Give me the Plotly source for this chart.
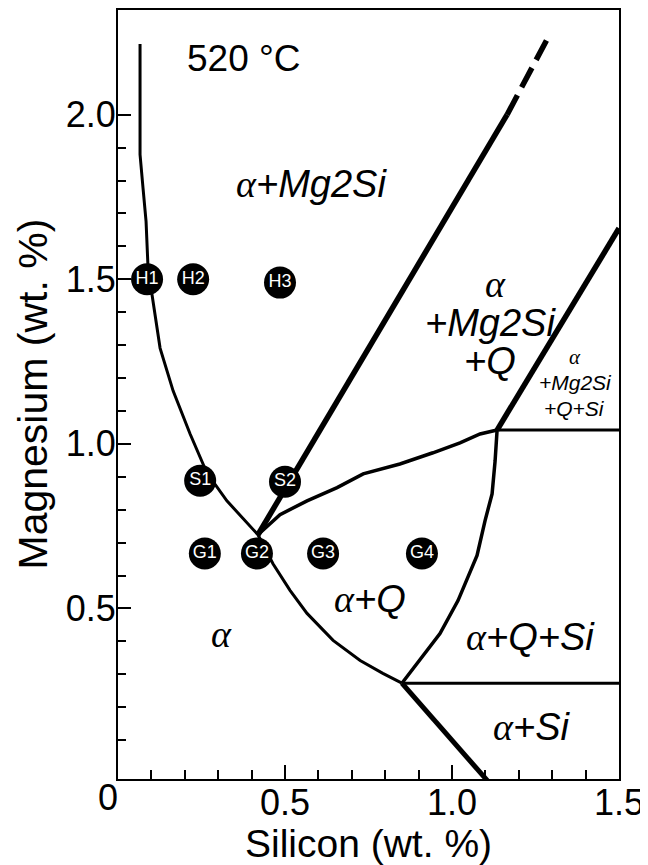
import plotly.graph_objects as go

# ---- data (Si wt.%, Mg wt.%) ----
# alpha solvus: top -> junction -> lower invariant point
alpha_si = [0.066, 0.066, 0.075, 0.084, 0.090, 0.102, 0.126, 0.165, 0.216, 0.266, 0.326, 0.419,
            0.464, 0.515, 0.566, 0.644, 0.725, 0.793, 0.850]
alpha_mg = [2.215, 1.879, 1.776, 1.676, 1.533, 1.455, 1.291, 1.161, 1.030, 0.912, 0.827, 0.724,
            0.636, 0.555, 0.485, 0.403, 0.342, 0.303, 0.273]
# alpha+Si boundary from lower invariant point to Mg = 0
si_bound_si = [0.850, 1.112]
si_bound_mg = [0.273, -0.03]
# alpha+Mg2Si / alpha+Mg2Si+Q boundary (solid then dashed)
mg2si_solid_si = [0.419, 1.165]
mg2si_solid_mg = [0.724, 2.000]
mg2si_dash_si = [1.165, 1.293]
mg2si_dash_mg = [2.000, 2.245]
# alpha+Q / alpha+Mg2Si+Q boundary
q_upper_si = [0.419, 0.485, 0.566, 0.656, 0.734, 0.844, 0.943, 1.024, 1.084, 1.135]
q_upper_mg = [0.724, 0.785, 0.827, 0.867, 0.909, 0.939, 0.973, 1.003, 1.030, 1.042]
# alpha+Q / alpha+Q+Si boundary
q_si_si = [1.135, 1.129, 1.120, 1.099, 1.075, 1.018, 0.964, 0.910, 0.850]
q_si_mg = [1.042, 0.948, 0.848, 0.767, 0.661, 0.524, 0.424, 0.352, 0.273]
# alpha+Mg2Si+Q / alpha+Mg2Si+Q+Si boundary
four_si = [1.135, 1.500]
four_mg = [1.042, 1.655]
# tie lines (horizontal)
tie_upper_si = [1.135, 1.500]
tie_upper_mg = [1.042, 1.042]
tie_lower_si = [0.850, 1.500]
tie_lower_mg = [0.273, 0.273]
# alloy compositions
alloy_names = ["H1", "H2", "H3", "S1", "S2", "G1", "G2", "G3", "G4"]
alloy_si = [0.087, 0.225, 0.485, 0.246, 0.500, 0.260, 0.416, 0.614, 0.910]
alloy_mg = [1.500, 1.500, 1.490, 0.888, 0.885, 0.667, 0.667, 0.667, 0.667]
# axis ticks
x_ticks = [0, 0.5, 1.0, 1.5]
x_ticklabels = ["", "0.5", "1.0", "1.5"]
y_ticks = [0.5, 1.0, 1.5, 2.0]
y_ticklabels = ["0.5", "1.0", "1.5", "2.0"]
x_minor = [0.1, 0.2, 0.3, 0.4, 0.6, 0.7, 0.8, 0.9, 1.1, 1.2, 1.3, 1.4]
y_minor = [0.1, 0.2, 0.3, 0.4, 0.6, 0.7, 0.8, 0.9, 1.1, 1.2, 1.3, 1.4, 1.6, 1.7, 1.8, 1.9]

SANS = "Liberation Sans, Arial, Helvetica, sans-serif"
A = '<span style="font-family:Liberation Serif">α</span>'

fig = go.Figure()

def line(xs, ys, w, dash=None):
    fig.add_trace(go.Scatter(x=xs, y=ys, mode="lines",
                             line=dict(color="black", width=w, dash=dash),
                             hoverinfo="skip", showlegend=False))

line(alpha_si, alpha_mg, 3)
line(si_bound_si, si_bound_mg, 5)
line(mg2si_solid_si, mg2si_solid_mg, 5.5)
line(mg2si_dash_si, mg2si_dash_mg, 5.5, dash="22px,9px")
line(q_upper_si, q_upper_mg, 3.5)
line(q_si_si, q_si_mg, 3.5)
line(four_si, four_mg, 5.5)
line(tie_upper_si, tie_upper_mg, 3)
line(tie_lower_si, tie_lower_mg, 3)

fig.add_trace(go.Scatter(x=alloy_si, y=alloy_mg, mode="markers+text",
                         text=alloy_names, textposition="middle center",
                         textfont=dict(color="white", size=18, family=SANS),
                         marker=dict(color="black", size=32, line=dict(width=0)),
                         hoverinfo="skip", showlegend=False))

labels = [
    ("520 °C", 0.377, 2.17, 37, False),
    (A + "+Mg2Si", 0.580, 1.788, 38, True),
    (A, 1.129, 1.485, 38, True),
    ("+Mg2Si", 1.114, 1.367, 38, True),
    ("+Q", 1.114, 1.252, 38, True),
    (A, 1.368, 1.264, 21, True),
    ("+Mg2Si", 1.371, 1.185, 21, True),
    ("+Q+Si", 1.368, 1.109, 21, True),
    (A + "+Q", 0.754, 0.530, 38, True),
    (A, 0.311, 0.424, 38, True),
    (A + "+Q+Si", 1.234, 0.412, 38, True),
    (A + "+Si", 1.237, 0.139, 38, True),
]
for txt, x, y, s, it in labels:
    fig.add_annotation(x=x, y=y, text=("<i>%s</i>" % txt) if it else txt,
                       showarrow=False, xanchor="center", yanchor="middle",
                       font=dict(family=SANS, size=s, color="black"))

# shared origin label
fig.add_annotation(x=0, y=0, xref="paper", yref="paper", text="0", showarrow=False,
                   xanchor="center", yanchor="top", xshift=-10, yshift=4,
                   font=dict(family=SANS, size=36, color="black"))
# axis titles
fig.add_annotation(x=0.5, y=0, xref="paper", yref="paper", text="Silicon (wt. %)",
                   showarrow=False, xanchor="center", yanchor="middle", yshift=-64,
                   font=dict(family=SANS, size=39, color="black"))
fig.add_annotation(x=0, y=0.5, xref="paper", yref="paper", text="Magnesium (wt. %)",
                   showarrow=False, xanchor="center", yanchor="middle", xshift=-86,
                   borderpad=0, textangle=-90, font=dict(family=SANS, size=41, color="black"))

fig.update_layout(
    width=648, height=865,
    margin=dict(l=110, r=37, t=0, b=94),
    paper_bgcolor="white", plot_bgcolor="white",
    font=dict(family=SANS, color="black"),
    xaxis=dict(range=[0, 1.5], tickmode="array", tickvals=x_ticks, ticktext=x_ticklabels,
               ticks="inside", ticklen=14, tickwidth=2, tickcolor="black",
               ticklabelstandoff=-9,
               tickfont=dict(size=36, family=SANS, color="black"),
               minor=dict(tickmode="array", tickvals=x_minor, ticks="inside", ticklen=9,
                          tickwidth=2, tickcolor="black", showgrid=False),
               showline=True, mirror=True, linewidth=2, linecolor="black",
               showgrid=False, zeroline=False),
    yaxis=dict(range=[-0.018, 2.318], tickmode="array", tickvals=y_ticks, ticktext=y_ticklabels,
               ticks="inside", ticklen=13, tickwidth=2, tickcolor="black",
               ticklabelstandoff=-7,
               tickfont=dict(size=36, family=SANS, color="black"),
               minor=dict(tickmode="array", tickvals=y_minor, ticks="inside", ticklen=8,
                          tickwidth=2, tickcolor="black", showgrid=False),
               showline=True, mirror=True, linewidth=2, linecolor="black",
               showgrid=False, zeroline=False),
)

fig.write_html("out.html")
